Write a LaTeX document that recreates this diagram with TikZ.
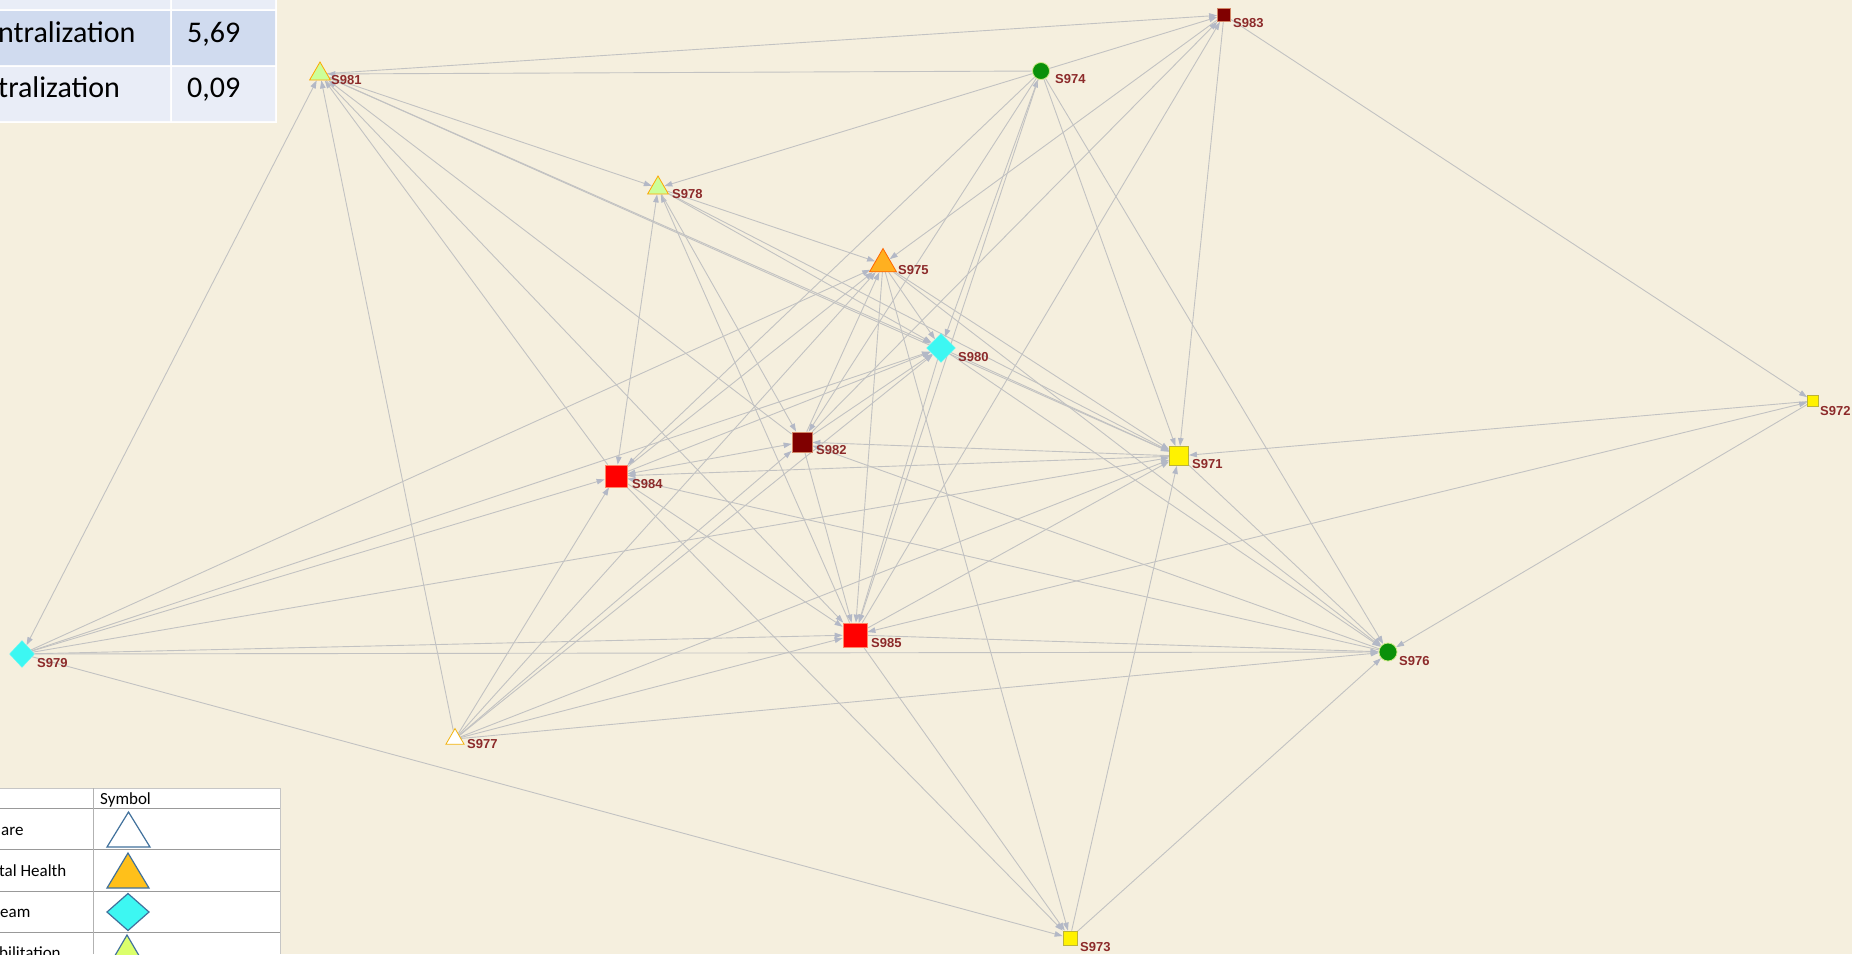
\documentclass[tikz,border=0pt]{standalone}
\usepackage{fontspec}
\usepackage{tikz}
\usetikzlibrary{shapes.geometric, arrows.meta}
\newfontfamily\lblfont{Liberation Sans}
\newfontfamily\tabfont{Carlito}
\definecolor{bgbeige}{HTML}{F5EFDE}
\definecolor{linkgray}{HTML}{C2C2C2}
\definecolor{tipgray}{HTML}{B3B8C6}
\definecolor{lblred}{HTML}{8C2A2A}
\definecolor{rowdark}{HTML}{D0DBEF}
\definecolor{rowlight}{HTML}{E9EDF7}
\definecolor{darkred}{HTML}{800000}
\definecolor{nodegreen}{HTML}{0A900A}
\definecolor{nodecyan}{HTML}{3DF7F2}
\definecolor{nodelime}{HTML}{CCFF99}
\definecolor{nodeorange}{HTML}{FFB020}
\definecolor{legblue}{HTML}{41719C}
\pgfdeclarelayer{back}
\pgfdeclarelayer{links}
\pgfsetlayers{back,links,main}

\begin{document}
\begin{tikzpicture}[x=1pt,y=-1pt,
  lbl/.style={font=\lblfont\bfseries\fontsize{13}{13}\selectfont,text=lblred,
    inner sep=0pt,anchor=west},
  sqnode/.style={rectangle,draw=#1!60!orange!60,line width=.8pt,inner sep=0pt},
  trinode/.style={regular polygon,regular polygon sides=3,inner sep=0pt,
    draw=orange!70!yellow,line width=.8pt},
  dianode/.style={diamond,fill=nodecyan,draw=nodecyan!80!white,inner sep=0pt},
  circnode/.style={circle,fill=nodegreen,draw=yellow!60!green!50,line width=.8pt,
    inner sep=0pt},
  link/.style={draw=linkgray,line width=.9pt,
    -{Triangle[length=8pt,width=5.5pt,color=tipgray]}},
  link2/.style={draw=linkgray,line width=.9pt,
    {Triangle[length=8pt,width=5.5pt,color=tipgray]}-{Triangle[length=8pt,width=5.5pt,color=tipgray]}},
  tabtxt/.style={font=\tabfont\fontsize{30}{30}\selectfont,inner sep=0pt},
  legtxt/.style={font=\tabfont\fontsize{17}{17}\selectfont,inner sep=0pt}]
 \useasboundingbox (0,0) rectangle (1852,954);
 \begin{pgfonlayer}{back}
  \fill[bgbeige] (0,0) rectangle (1852,954);
 \end{pgfonlayer}

 % summary table (top left)
 \fill[white] (0,0) rectangle (277,123);
 \fill[rowlight] (0,0) rectangle (170,9) (172,0) rectangle (275,9);
 \fill[rowdark] (0,11) rectangle (170,65) (172,11) rectangle (275,65);
 \fill[rowlight] (0,67) rectangle (170,121) (172,67) rectangle (275,121);
 \node[tabtxt,anchor=base west] (t1) at (-2,42) {ntralization};
 \node[tabtxt,anchor=base west] (v1) at (187,42) {5,69};
 \node[tabtxt,anchor=base west] (t2) at (-2,97) {tralization};
 \node[tabtxt,anchor=base west] (v2) at (187,97) {0,09};

 % legend (bottom left)
 \fill[white] (0,788) rectangle (280,954);
 \draw[gray!45] (0,788) -- (280,788) (280,788) -- (280,954);
 \draw[gray!80,line width=.8pt] (0,808) -- (280,808) (0,849) -- (280,849)
   (0,891) -- (280,891) (0,932) -- (280,932);
 \draw[gray!60,line width=.8pt] (93,788) -- (93,954);
 \node[legtxt,anchor=base west] (hsym) at (100,804) {Symbol};
 \node[legtxt,anchor=base west] (r1) at (1,835) {are};
 \node[legtxt,anchor=base west] (r2) at (-1,876) {tal Health};
 \node[legtxt,anchor=base west] (r3) at (0,917) {eam};
 \node[legtxt,anchor=base west] (r4) at (-1,958) {bilitation};
 \draw[legblue,line width=1.2pt,fill=white] (107,847) -- (128.5,812) -- (150,847) -- cycle;
 \draw[legblue,line width=1.2pt,fill=nodeorange!80!yellow] (107,888) -- (128,853) -- (149,888) -- cycle;
 \draw[legblue,line width=1.2pt,fill=nodecyan] (107,912) -- (128,893.5) -- (149,912) -- (128,930.5) -- cycle;
 \draw[legblue,line width=1.2pt,fill=nodelime!70!yellow] (106,971) -- (127,935) -- (148,971) -- cycle;

 % actors
 \node[sqnode=darkred,fill=darkred,minimum size=13pt] (n983) at (1224,15) {};
 \node[trinode,fill=nodelime,minimum size=24pt] (n981) at (320,74) {};
 \node[circnode,minimum size=17pt] (n974) at (1041,71) {};
 \node[trinode,fill=nodelime,minimum size=24pt] (n978) at (658,188) {};
 \node[trinode,fill=nodeorange,draw=orange!80!red,minimum size=31pt] (n975) at (883,264) {};
 \node[dianode,minimum width=29pt,minimum height=29pt] (n980) at (941,348) {};
 \node[sqnode=darkred,fill=darkred,minimum size=20pt] (n982) at (802,442) {};
 \node[sqnode=red,fill=red,minimum size=22pt] (n984) at (616,476) {};
 \node[sqnode=yellow,fill=yellow,draw=yellow!70!black,minimum size=19pt] (n971) at (1179,456) {};
 \node[sqnode=yellow,fill=yellow,draw=yellow!70!black,minimum size=11pt] (n972) at (1813,401) {};
 \node[sqnode=red,fill=red,minimum size=24pt] (n985) at (855,635) {};
 \node[dianode,minimum width=25pt,minimum height=27pt] (n979) at (22,654) {};
 \node[circnode,minimum size=18pt] (n976) at (1388,652) {};
 \node[trinode,fill=white,draw=orange!50!yellow!80!brown,minimum size=21pt] (n977) at (455,739) {};
 \node[sqnode=yellow,fill=yellow,draw=yellow!70!black,minimum size=14pt] (n973) at (1070,938) {};

 % actor names
 \node[lbl] (l983) at ([shift={(9,8)}]n983.center) {S983};
 \node[lbl] (l981) at ([shift={(11,6)}]n981.center) {S981};
 \node[lbl] (l974) at ([shift={(14,8)}]n974.center) {S974};
 \node[lbl] (l978) at ([shift={(14,6)}]n978.center) {S978};
 \node[lbl] (l975) at ([shift={(15,6)}]n975.center) {S975};
 \node[lbl] (l980) at ([shift={(17,9)}]n980.center) {S980};
 \node[lbl] (l982) at ([shift={(14,8)}]n982.center) {S982};
 \node[lbl] (l984) at ([shift={(16,8)}]n984.center) {S984};
 \node[lbl] (l971) at ([shift={(13,8)}]n971.center) {S971};
 \node[lbl] (l972) at ([shift={(7,10)}]n972.center) {S972};
 \node[lbl] (l985) at ([shift={(16,8)}]n985.center) {S985};
 \node[lbl] (l979) at ([shift={(15,9)}]n979.center) {S979};
 \node[lbl] (l976) at ([shift={(11,9)}]n976.center) {S976};
 \node[lbl] (l977) at ([shift={(12,5)}]n977.center) {S977};
 \node[lbl] (l973) at ([shift={(10,9)}]n973.center) {S973};

 % ties
 \begin{pgfonlayer}{links}
 \draw[link] (n981) -- (n983);
 \draw[link] (n974) -- (n981);
 \draw[link2] (n979) -- (n981);
 \draw[link] (n977) -- (n981);
 \draw[link] (n981) -- (n978);
 \draw[link] (n984) -- (n981);
 \draw[link] (n982) -- (n981);
 \draw[link] (n981) -- (n985);
 \draw[link] (n981) -- (n980);
 \draw[link] (n981) -- (n971);
 \draw[link] (n974) -- (n983);
 \draw[link] (n974) -- (n978);
 \draw[link2] (n974) -- (n980);
 \draw[link] (n974) -- (n985);
 \draw[link] (n974) -- (n984);
 \draw[link] (n974) -- (n982);
 \draw[link] (n974) -- (n971);
 \draw[link] (n974) -- (n976);
 \draw[link] (n983) -- (n975);
 \draw[link] (n982) -- (n983);
 \draw[link] (n985) -- (n983);
 \draw[link] (n983) -- (n971);
 \draw[link] (n983) -- (n972);
 \draw[link2] (n978) -- (n984);
 \draw[link] (n985) -- (n978);
 \draw[link] (n978) -- (n982);
 \draw[link] (n978) -- (n975);
 \draw[link] (n978) -- (n980);
 \draw[link] (n978) -- (n971);
 \draw[link] (n979) -- (n975);
 \draw[link] (n977) -- (n975);
 \draw[link] (n984) -- (n975);
 \draw[link] (n982) -- (n975);
 \draw[link] (n975) -- (n985);
 \draw[link] (n975) -- (n980);
 \draw[link] (n975) -- (n971);
 \draw[link] (n975) -- (n976);
 \draw[link] (n975) -- (n973);
 \draw[link] (n984) -- (n980);
 \draw[link] (n982) -- (n980);
 \draw[link] (n980) -- (n985);
 \draw[link] (n977) -- (n980);
 \draw[link] (n979) -- (n980);
 \draw[link] (n980) -- (n971);
 \draw[link] (n980) -- (n976);
 \draw[link2] (n984) -- (n982);
 \draw[link] (n982) -- (n985);
 \draw[link] (n977) -- (n982);
 \draw[link] (n971) -- (n982);
 \draw[link] (n976) -- (n982);
 \draw[link] (n979) -- (n984);
 \draw[link] (n977) -- (n984);
 \draw[link] (n971) -- (n984);
 \draw[link] (n976) -- (n984);
 \draw[link] (n984) -- (n985);
 \draw[link] (n984) -- (n973);
 \draw[link] (n979) -- (n971);
 \draw[link] (n972) -- (n971);
 \draw[link] (n977) -- (n971);
 \draw[link] (n985) -- (n971);
 \draw[link] (n971) -- (n976);
 \draw[link] (n973) -- (n971);
 \draw[link2] (n985) -- (n972);
 \draw[link] (n972) -- (n976);
 \draw[link] (n979) -- (n985);
 \draw[link] (n977) -- (n985);
 \draw[link] (n985) -- (n976);
 \draw[link] (n985) -- (n973);
 \draw[link] (n979) -- (n976);
 \draw[link] (n977) -- (n976);
 \draw[link] (n973) -- (n976);
 \draw[link] (n979) -- (n973);
 \end{pgfonlayer}
\end{tikzpicture}
\end{document}
